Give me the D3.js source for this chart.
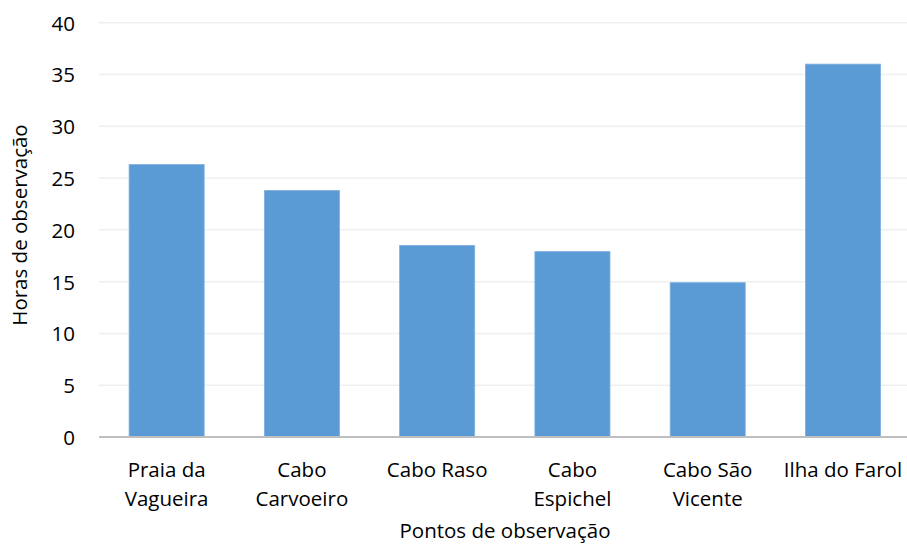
<!DOCTYPE html>
<html>
<head>
<meta charset="utf-8">
<script src="https://cdn.jsdelivr.net/npm/d3@7"></script>
<style>
html,body{margin:0;padding:0;background:#fff;}
svg{display:block;}
text{font-family:"Open Sans",sans-serif;fill:#000;}
</style>
</head>
<body>
<svg id="chart" width="907" height="544"></svg>
<script>
const categories = [["Praia da","Vagueira"],["Cabo","Carvoeiro"],["Cabo Raso"],["Cabo","Espichel"],["Cabo São","Vicente"],["Ilha do Farol"]];
const values = [26.3, 23.8, 18.5, 17.9, 14.9, 36.0];
const yTicks = [0,5,10,15,20,25,30,35,40];
const yTitle = "Horas de observação";
const xTitle = "Pontos de observação";

(function(){
const svg = d3.select("#chart");
const fs = 20.5;
const pl = 99, pr = 910.6, pt = 22.7, pb = 437;
const x = d3.scaleBand().domain(d3.range(categories.length)).range([pl, pr]).paddingInner(0.445).paddingOuter(0.2225);
const y = d3.scaleLinear().domain([0,40]).range([pb, pt]);

// gridlines
svg.append("g").selectAll("line").data(yTicks.filter(d=>d>0)).join("line")
  .attr("x1", pl).attr("x2", 907).attr("y1", d=>y(d)).attr("y2", d=>y(d))
  .attr("stroke", "#efefef").attr("stroke-width", 1.5);

// bars
svg.append("g").selectAll("rect").data(values).join("rect")
  .attr("x", (d,i)=>x(i)).attr("width", x.bandwidth())
  .attr("y", d=>y(d)).attr("height", d=>y(0)-y(d))
  .attr("fill", "#5b9bd5").attr("stroke","#7eb0de").attr("stroke-width",0.8);

// x axis line
svg.append("line").attr("x1", pl).attr("x2", 907).attr("y1", y(0)).attr("y2", y(0))
  .attr("stroke", "#bfbfbf").attr("stroke-width", 2);

// y tick labels
const yAxis = d3.axisLeft(y).tickValues(yTicks).tickSize(0).tickPadding(0);
const ga = svg.append("g").attr("transform", `translate(75,0)`).call(yAxis);
ga.select(".domain").remove();
ga.selectAll("text").attr("font-size", fs).attr("font-family", "Open Sans").attr("fill","#000").attr("dy","0.36em");

// x labels
const xl = svg.append("g").selectAll("text").data(categories).join("text")
  .attr("text-anchor","middle").attr("font-size",fs)
  .attr("x", (d,i)=>x(i)+x.bandwidth()/2).attr("y", 477);
xl.each(function(lines){
  d3.select(this).selectAll("tspan").data(lines).join("tspan")
    .attr("x", d3.select(this).attr("x")).attr("dy",(d,j)=>j===0?0:29).text(d=>d);
});

// titles
svg.append("text").attr("text-anchor","middle").attr("font-size",fs)
  .attr("transform", `translate(27,225) rotate(-90)`).text(yTitle);
svg.append("text").attr("text-anchor","middle").attr("font-size",fs)
  .attr("x", 505).attr("y", 538).text(xTitle);
})();
</script>
</body>
</html>
